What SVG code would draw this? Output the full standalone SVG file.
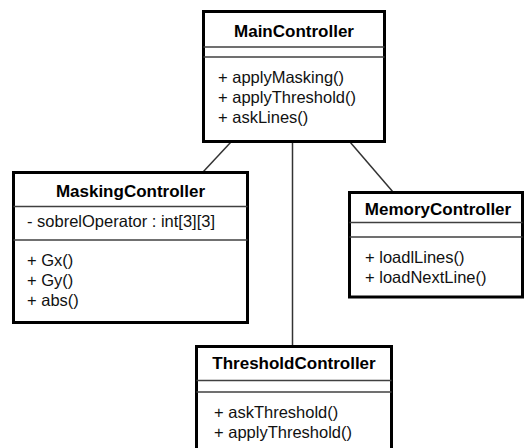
<svg xmlns="http://www.w3.org/2000/svg" width="526" height="448" viewBox="0 0 526 448">
<style>
.box{fill:#fff;stroke:#000;stroke-width:3}
.sep{stroke:#404040;stroke-width:1.3}
.title{font-family:"Liberation Sans",Arial,sans-serif;font-size:17px;font-weight:bold;fill:#000;text-anchor:middle}
.item{font-family:"Liberation Sans",Arial,sans-serif;font-size:16.5px;fill:#111}
.conn{stroke:#333;stroke-width:1.5;fill:none}
</style>
<rect width="526" height="448" fill="#fff"/>
<g id="connectors">
<line class="conn" x1="231" y1="142" x2="203" y2="172"/>
<line class="conn" x1="292.5" y1="142" x2="292.5" y2="346"/>
<line class="conn" x1="350" y1="142" x2="393" y2="192"/>
</g>
<g id="MainController">
<rect class="box" x="203.5" y="11.5" width="181" height="130"/>
<text class="title" x="294" y="37">MainController</text>
<line class="sep" x1="203.5" y1="47" x2="384.5" y2="47"/>
<line class="sep" x1="203.5" y1="57" x2="384.5" y2="57"/>
<text class="item" x="218" y="83">+ applyMasking()</text>
<text class="item" x="218" y="103">+ applyThreshold()</text>
<text class="item" x="218" y="123">+ askLines()</text>
</g>
<g id="MaskingController">
<rect class="box" x="13.5" y="172.5" width="234" height="150"/>
<text class="title" x="130.5" y="197">MaskingController</text>
<line class="sep" x1="13.5" y1="206.5" x2="247.5" y2="206.5"/>
<text class="item" x="27" y="227">- sobrelOperator : int[3][3]</text>
<line class="sep" x1="13.5" y1="240" x2="247.5" y2="240"/>
<text class="item" x="27" y="266">+ Gx()</text>
<text class="item" x="27" y="286">+ Gy()</text>
<text class="item" x="27" y="306">+ abs()</text>
</g>
<g id="MemoryController">
<rect class="box" x="349.5" y="192.5" width="173" height="104.5"/>
<text class="title" x="438" y="215">MemoryController</text>
<line class="sep" x1="349.5" y1="222.5" x2="522.5" y2="222.5"/>
<line class="sep" x1="349.5" y1="237" x2="522.5" y2="237"/>
<text class="item" x="365" y="263">+ loadlLines()</text>
<text class="item" x="365" y="283">+ loadNextLine()</text>
</g>
<g id="ThresholdController">
<rect class="box" x="196.5" y="346.5" width="195" height="118"/>
<text class="title" x="294" y="369">ThresholdController</text>
<line class="sep" x1="196.5" y1="380.5" x2="391.5" y2="380.5"/>
<line class="sep" x1="196.5" y1="392" x2="391.5" y2="392"/>
<text class="item" x="214" y="418">+ askThreshold()</text>
<text class="item" x="214" y="438">+ applyThreshold()</text>
</g>
</svg>
